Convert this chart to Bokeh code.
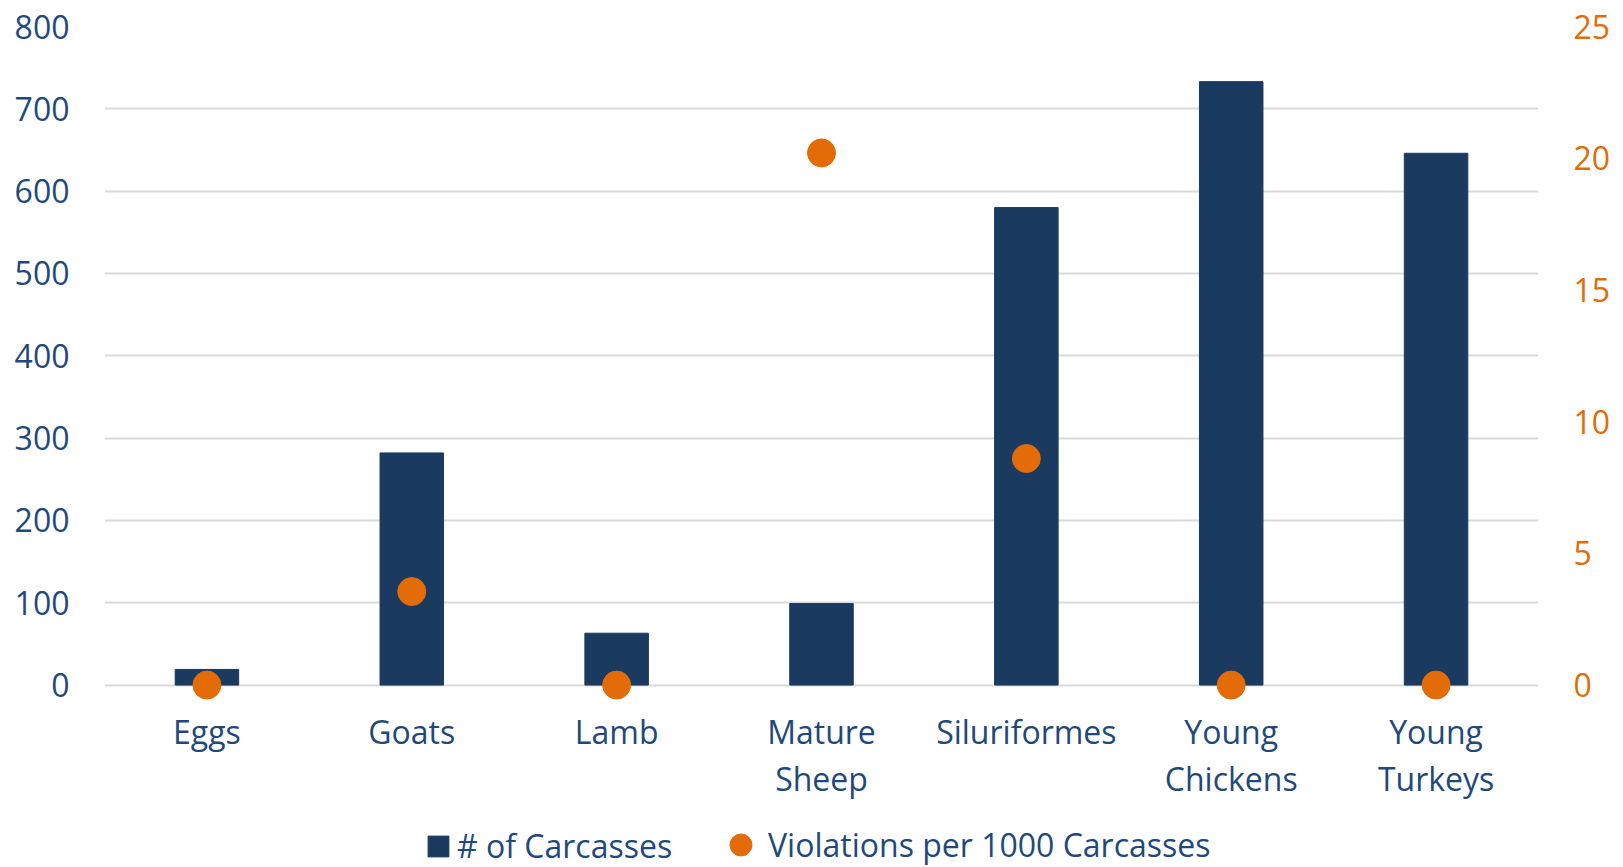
from bokeh.plotting import figure
from bokeh.models import ColumnDataSource, LinearAxis, Range1d, Legend, LegendItem, FixedTicker
from bokeh.core.properties import value
from bokeh.embed import file_html
from bokeh.resources import INLINE

categories = ["Eggs", "Goats", "Lamb", "Mature Sheep", "Siluriformes", "Young Chickens", "Young Turkeys"]
carcasses = [19, 282, 63, 99, 580, 733, 646]
violations = [0, 3.55, 0, 20.2, 8.6, 0, 0]
left_ticks = [0, 100, 200, 300, 400, 500, 600, 700, 800]
right_ticks = [0, 5, 10, 15, 20, 25]
label_line1 = ["Eggs", "Goats", "Lamb", "Mature", "Siluriformes", "Young", "Young"]
label_line2 = ["", "", "", "Sheep", "", "Chickens", "Turkeys"]

BAR = "#1A3A5F"
ORANGE = "#E36C09"
TEXT = "#1F497D"
GRID = "#D9D9D9"
FONT = "Open Sans"

LEFT_MAX = 800
RIGHT_MAX = 25
BELOW = 221.6          # value room kept under zero for the category labels and legend
LINE1_Y, LINE2_Y = -57.0, -113.5

xs = list(range(len(categories)))
src = ColumnDataSource(dict(x=xs, cat=categories, n=carcasses, v=violations))
lab = ColumnDataSource(dict(x=xs, l1=label_line1, l2=label_line2,
                            y1=[LINE1_Y] * len(xs), y2=[LINE2_Y] * len(xs)))

p = figure(x_range=Range1d(-0.5, len(categories) - 0.5),
           y_range=Range1d(-BELOW, LEFT_MAX),
           width=1623, height=867, x_axis_location=None,
           min_border_left=104, min_border_right=85, min_border_top=26, min_border_bottom=0,
           output_backend="svg", toolbar_location=None, outline_line_color=None)
p.extra_y_ranges = {"right": Range1d(-BELOW * RIGHT_MAX / LEFT_MAX, RIGHT_MAX)}

bars = p.vbar(x="x", top="n", width=0.31, source=src, fill_color=BAR, line_color=BAR)
dots = p.scatter(x="x", y="v", y_range_name="right", source=src, size=28,
                 fill_color=ORANGE, line_color=ORANGE)

# category labels under the bars
for ycol, tcol in (("y1", "l1"), ("y2", "l2")):
    p.text(x="x", y=ycol, text=tcol, source=lab, text_font=value(FONT),
           text_font_size="32px", text_color=TEXT, text_align="center", text_baseline="middle")

# left axis
ya = p.yaxis[0]
ya.ticker = FixedTicker(ticks=left_ticks)
ya.axis_line_color = None
ya.major_tick_line_color = None
ya.minor_tick_line_color = None
ya.major_tick_out = 0
ya.major_label_standoff = 35
ya.major_label_text_font = FONT
ya.major_label_text_font_size = "32px"
ya.major_label_text_color = TEXT

# right axis
ra = LinearAxis(y_range_name="right", ticker=FixedTicker(ticks=right_ticks))
ra.axis_line_color = None
ra.major_tick_line_color = None
ra.minor_tick_line_color = None
ra.major_tick_out = 0
ra.major_label_standoff = 35
ra.major_label_text_font = FONT
ra.major_label_text_font_size = "32px"
ra.major_label_text_color = ORANGE
p.add_layout(ra, "right")

p.xgrid.grid_line_color = None
p.ygrid.ticker = FixedTicker(ticks=left_ticks)
p.ygrid.grid_line_color = GRID
p.ygrid.grid_line_width = 2

common = dict(orientation="horizontal", label_text_font=FONT, label_text_font_size="32px",
              label_text_color=TEXT, border_line_color=None, background_fill_alpha=0,
              padding=0, margin=0)
leg1 = Legend(items=[LegendItem(label="# of Carcasses", renderers=[bars])],
              location=(321, 0), glyph_width=26, glyph_height=26, label_standoff=6, **common)
leg2 = Legend(items=[LegendItem(label="Violations per 1000 Carcasses", renderers=[dots])],
              location=(609, -5), glyph_width=55, glyph_height=55, label_standoff=-11, **common)
p.add_layout(leg1)
p.add_layout(leg2)

open("out.html", "w").write(file_html(p, INLINE))
